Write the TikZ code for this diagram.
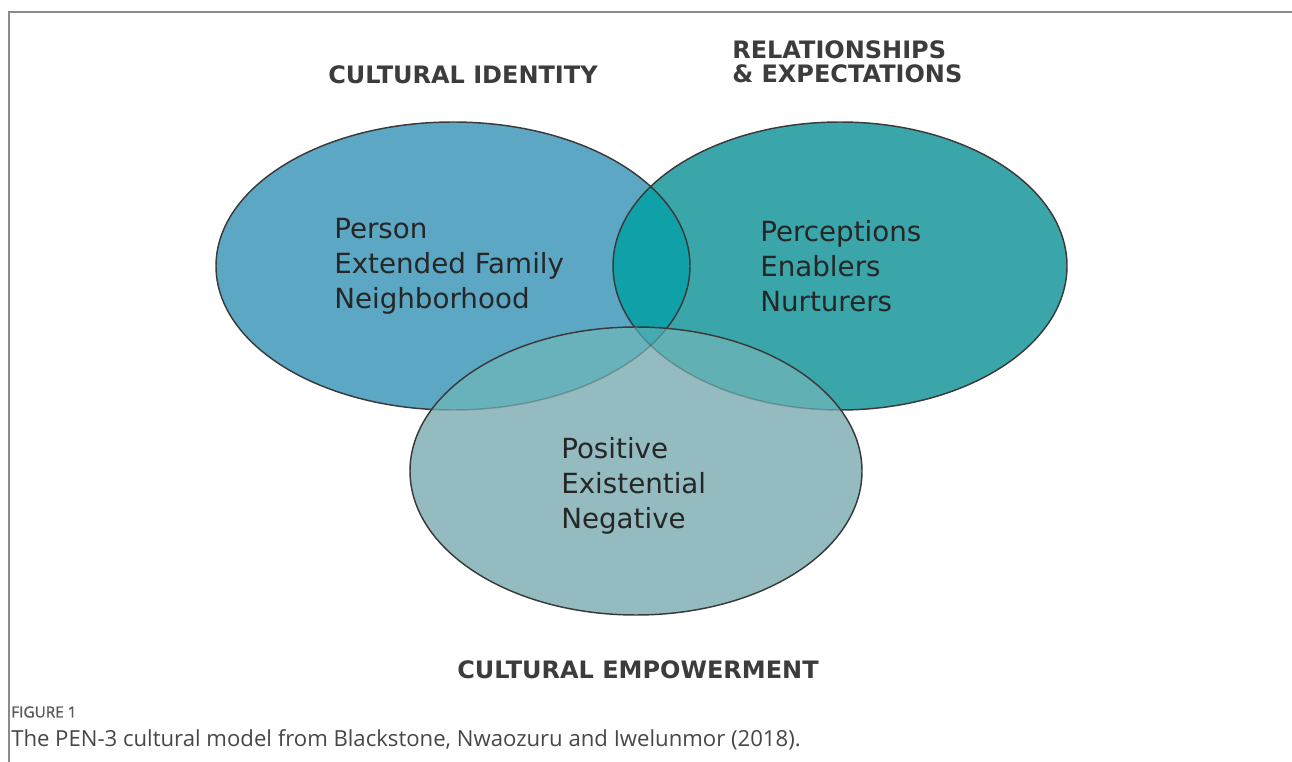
\documentclass[tikz,border=0pt]{standalone}
\usepackage{fontspec}
\setmainfont{DejaVu Sans}
\newfontfamily\capfont{Open Sans}
\newfontfamily\capboldfont{Open Sans}[FakeBold=1.2]
\definecolor{identblue}{HTML}{5CA8C4}
\definecolor{relteal}{HTML}{3AA6AA}
\definecolor{bothteal}{HTML}{10A0A8}
\definecolor{empgray}{HTML}{94BCC0}
\definecolor{empblue}{HTML}{69B2BB}
\definecolor{empteal}{HTML}{60B0B4}
\definecolor{allteal}{HTML}{46AAB2}
\definecolor{rimgray}{HTML}{3A3A3A}
\definecolor{headgray}{HTML}{3C3C3C}
\definecolor{framegray}{HTML}{8A8A8A}
\begin{document}
\begin{tikzpicture}[x=0.75pt,y=-0.75pt,
    heading/.style={font=\bfseries\fontsize{18}{18}\selectfont,text=headgray,inner sep=0pt},
    members/.style={font=\fontsize{20.8}{26.25}\selectfont,text=black!85,align=left,anchor=west,inner sep=0pt},
    rim/.style={draw=rimgray,line width=1.1pt}]
  \useasboundingbox (0,0) rectangle (1292,762);
  \draw[framegray,line width=1.1pt] (1292,12) -- (9,12) -- (9,762);
  \coordinate (ci) at (453,266);
  \coordinate (cr) at (840,266);
  \coordinate (ce) at (636,471);
  % upper two
  \fill[identblue] (ci) ellipse (237 and 144);
  \fill[relteal] (cr) ellipse (227 and 144);
  \begin{scope}
    \clip (ci) ellipse (237 and 144);
    \fill[bothteal] (cr) ellipse (227 and 144);
  \end{scope}
  \draw[rim] (ci) ellipse (237 and 144);
  \draw[rim] (cr) ellipse (227 and 144);
  % lower one
  \fill[empgray] (ce) ellipse (226 and 144);
  \begin{scope}
    \clip (ce) ellipse (226 and 144);
    \fill[empblue] (ci) ellipse (237 and 144);
    \fill[empteal] (cr) ellipse (227 and 144);
    \clip (ci) ellipse (237 and 144);
    \fill[allteal] (cr) ellipse (227 and 144);
  \end{scope}
  \begin{scope}
    \clip (ce) ellipse (226 and 144);
    \draw[rim,draw opacity=0.3] (ci) ellipse (237 and 144);
    \draw[rim,draw opacity=0.3] (cr) ellipse (227 and 144);
  \end{scope}
  \draw[rim] (ce) ellipse (226 and 144);
  % texts
  \node[heading] (ident) at (463,75) {CULTURAL IDENTITY};
  \node[heading,align=left,anchor=west] (relat) at (732,62) {RELATIONSHIPS\\\& EXPECTATIONS};
  \node[heading] (empow) at (638,670) {CULTURAL EMPOWERMENT};
  \node[members] (person) at (334,266) {Person\\Extended Family\\Neighborhood};
  \node[members] (percep) at (760,266) {Perceptions\\Enablers\\Nurturers};
  \node[members] (posit) at (561,486) {Positive\\Existential\\Negative};
  \node[anchor=west,inner sep=0pt,text=black!65,font=\capboldfont\fontsize{11.5}{13}\selectfont] (fig) at (11,712) {FIGURE 1};
  \node[anchor=west,inner sep=0pt,text=black!72,font=\capfont\fontsize{16.6}{19}\selectfont] (capt) at (11,740) {The PEN-3 cultural model from Blackstone, Nwaozuru and Iwelunmor (2018).};
\end{tikzpicture}
\end{document}
